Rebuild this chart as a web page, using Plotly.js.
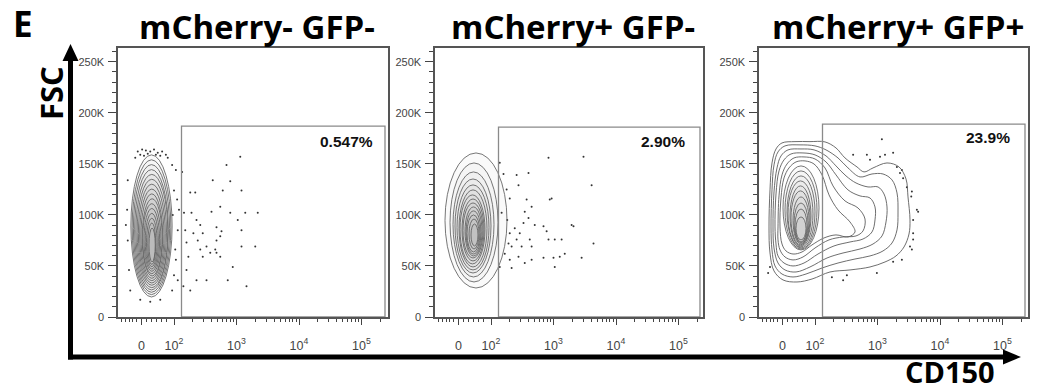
<!DOCTYPE html>
<html><head><meta charset="utf-8">
<script src="https://cdn.plot.ly/plotly-3.0.1.min.js"></script>
<style>html,body{margin:0;padding:0;background:#fff}#chart{width:1041px;height:391px}</style>
</head><body><div id="chart"></div>
<script>
// ---------------- data (x in biexponential display decades, y = FSC in thousands) ----------------
const panelTitles = ["mCherry- GFP-", "mCherry+ GFP-", "mCherry+ GFP+"];
const gatePercent = ["0.547%", "2.90%", "23.9%"];
const xTickVals = [1.48, 2, 3, 4, 5];
const xTickText = ["0", "10<sup>2</sup>", "10<sup>3</sup>", "10<sup>4</sup>", "10<sup>5</sup>"];
const xMinorLinear = [1.16, 1.22, 1.28, 1.34, 1.40, 1.56, 1.64, 1.72, 1.80, 1.88];
const yTickVals = [0, 50, 100, 150, 200, 250];
const yTickText = ["0", "50K", "100K", "150K", "200K", "250K"];
const gateX0 = [2.12, 2.12, 2.12];
const gateX1 = [5.376, 5.344, 5.36];
const gateY1 = [187, 186, 189];
const labelX = [5.22, 5.14, 5.15];
const labelY = [171.6, 171.6, 175.5];

// panel 1 contour rings (outer -> inner)
const p1RingXLo = [1.31,1.33,1.35,1.37,1.39,1.41,1.43,1.45,1.47,1.49,1.50,1.52,1.54,1.56,1.58,1.60];
const p1RingXHi = [1.97,1.95,1.93,1.91,1.90,1.88,1.86,1.84,1.82,1.81,1.79,1.77,1.75,1.73,1.71,1.70];
const p1RingYLo = [19.6,21.9,24.2,26.5,28.7,31.1,33.3,35.6,37.9,40.2,42.4,44.8,47.0,49.3,51.6,53.9];
const p1RingYHi = [158.8,154.0,149.3,144.4,139.7,134.9,130.1,125.3,120.6,115.8,111.0,106.3,101.5,96.7,92.0,87.2];
const p1DotX = [2.13,2.26,2.34,2.28,2.36,2.42,2.31,2.38,2.46,2.52,2.58,2.46,2.68,2.74,2.66,2.68,2.74,2.78,2.84,2.90,2.62,3.06,3.08,2.90,3.02,3.14,3.34,3.08,3.08,3.30,2.94,2.86,3.16,2.36,2.52,2.20,2.15,2.26,2.74,2.68,2.76,2.60,2.42,2.20,2.23,2.18,2.16,
  2.03,2.05,2.06,2.03,2.06,2.02,2.08,
  1.42,1.49,1.55,1.62,1.68,1.74,1.81,1.87,1.46,1.58,1.71,1.78,1.52,1.38,1.90,
  1.26,1.25,1.26,1.28,1.23,1.30,1.97,2.0,1.98,2.0,1.97,1.46,1.62,1.78];
const p1DotY = [142,122,122,102,95,90,82,75,82,69,63,59,63,59,66,88,108,124,149,133,134,157,124,102,95,102,102,85,69,69,49,36,30,36,36,46,30,26,79,75,84,103,66,73,59,85,102,
  144,115,85,56,36,66,105,
  162,164,163,162,164,161,162,159,159,160,159,158,158,156,156,
  134,105,75,46,90,26,149,124,100,41,26,17,15,17];

// panel 2 contour rings
const p2RingXLo = [1.264,1.344,1.392,1.424,1.456,1.488,1.504,1.536,1.552,1.584,1.60,1.616,1.648,1.68];
const p2RingXHi = [2.256,2.112,2.048,2.0,1.968,1.936,1.904,1.888,1.872,1.856,1.84,1.824,1.808,1.792];
const p2RingYLo = [28.4,34.3,39.2,43.1,46.1,49.0,52.0,54.9,57.8,59.8,61.7,63.7,66.6,69.6];
const p2RingYHi = [160.7,150.9,142.1,135.2,129.4,124.5,119.6,115.6,111.7,107.8,103.9,100.0,96.0,91.1];
const p2DotX = [2.14,2.41,2.60,2.44,2.30,2.57,2.65,2.54,2.60,2.52,2.38,2.30,2.28,2.33,2.41,2.46,2.49,2.62,2.65,2.44,2.30,2.33,2.54,2.65,2.70,2.84,2.89,2.92,3.02,3.13,2.84,3.00,3.02,3.10,3.18,2.94,2.97,2.92,3.29,3.32,3.45,3.48,3.61,3.64,2.25,2.22,2.14,2.17,2.20,2.26];
const p2DotY = [151,139,141,129,116,115,108,103,97,92,87,82,72,69,76,82,69,76,69,59,56,48,53,56,90,89,84,76,76,76,58,58,49,59,62,115,116,156,90,89,58,157,129,72,125,62,49,102,140,95];

// panel 3 irregular outer contours (outer -> inner)
const p3LobeX = [
  [1.264,1.28,1.312,1.376,1.472,1.68,1.92,2.16,2.336,2.48,2.672,2.784,2.928,3.152,3.344,3.456,3.488,3.52,3.504,3.424,3.296,3.12,2.88,2.56,2.24,1.952,1.712,1.488,1.344,1.28],
  [1.296,1.312,1.344,1.408,1.52,1.76,2.0,2.176,2.368,2.528,2.72,2.912,3.088,3.232,3.312,3.328,3.312,3.232,3.088,2.88,2.64,2.368,2.112,1.856,1.648,1.472,1.36,1.312],
  [1.328,1.344,1.392,1.456,1.568,1.776,1.984,2.176,2.336,2.496,2.656,2.848,3.008,3.104,3.152,3.136,3.072,2.928,2.72,2.448,2.192,1.92,1.696,1.52,1.408,1.344],
  [1.36,1.376,1.424,1.504,1.616,1.808,2.0,2.176,2.336,2.528,2.72,2.88,2.96,2.96,2.912,2.768,2.56,2.304,2.048,1.824,1.648,1.504,1.408,1.376],
  [1.408,1.424,1.472,1.552,1.664,1.824,2.0,2.16,2.288,2.48,2.688,2.8,2.768,2.656,2.448,2.224,2.0,1.808,1.648,1.52,1.44,1.408],
  [1.44,1.456,1.504,1.584,1.696,1.84,1.984,2.112,2.224,2.368,2.56,2.64,2.528,2.336,2.144,1.952,1.792,1.648,1.536,1.472]
];
const p3LobeY = [
  [88.2,124.5,150.9,164.6,170.5,171.8,171.8,171.5,165.6,155.8,147,142.1,146,150.9,147,135.2,117.6,95.1,81.3,68.6,59.8,53.9,49,46.1,44.1,37.2,34.3,36.3,45.1,62.7],
  [88.2,124.5,149,161.7,167.6,168.6,167.6,163.7,155.8,146,137.2,140.1,140.1,134.3,121.5,101.9,85.3,72.5,64.7,59.8,56.8,52.9,48,42.1,39.2,42.1,50,65.7],
  [88.2,122.5,146,157.8,163.7,164.6,163.7,157.8,148,138.2,131.3,127.4,127.4,120.5,107.8,93.1,79.4,71.5,66.6,62.7,57.8,49,44.1,46.1,52.9,67.6],
  [88.2,120.5,143.1,153.9,159.7,160.7,158.8,151.9,139.2,124.5,118.6,116.6,107.8,95.1,83.3,76.4,73.5,69.6,61.7,52.9,50,52.9,59.8,71.5],
  [88.2,118.6,139.2,149.9,155.8,156.8,154.8,146,128.4,113.7,106.8,96,84.3,79.4,78.4,75.5,67.6,58.8,55.9,58.8,65.7,75.5],
  [88.2,116.6,136.2,146,151.9,152.9,149.9,139.2,119.6,104.9,93.1,83.3,78.4,80.4,77.4,70.6,63.7,61.7,64.7,71.5]
];
// panel 3 inner core rings
const p3RingXLo = [1.488,1.52,1.552,1.568,1.6,1.616,1.648,1.664,1.68,1.696];
const p3RingXHi = [2.064,2.032,2.0,1.968,1.936,1.92,1.904,1.888,1.872,1.856];
const p3RingYLo = [65.7,66.6,67.6,68.6,69.6,70.6,71.5,72.5,73.5,75.5];
const p3RingYHi = [148,143.1,138.2,133.3,128.4,123.5,117.6,111.7,105.8,98];
const p3DotX = [2.61,3.04,3.12,3.25,3.31,3.36,3.41,3.47,3.54,3.65,3.57,3.57,3.57,3.52,3.39,3.25,2.99,2.51,2.27,2.45,1.25,1.28,3.07,2.88,3.39,3.63,3.55,3.55,2.83];
const p3DotY = [159,157,159,161,147,141,136,127,118,103,95,82,76,69,56,54,43,41,39,36,43,49,174,154,144,105,123,66,159];

// ---------------- layout helpers ----------------
const W = 1041, H = 391;
const PX = v => v / W, PY = v => 1 - v / H;
const panelPx = [[118, 388], [435, 703], [759, 1028]];
const pxPerDecade = 62.5;
const xStart = 1.104;
const yDom = [PY(317), PY(48)];

const xMinor = xMinorLinear.slice();
[2, 3, 4].forEach(n => { for (let k = 2; k <= 9; k++) xMinor.push(n + Math.log10(k)); });
xMinor.push(5 + Math.log10(2));

const yTickFont = {family: 'Liberation Sans, Arial, sans-serif', size: 11, color: '#444'};
const xTickFont = {family: 'Liberation Sans, Arial, sans-serif', size: 12.5, color: '#444'};
const layout = {
  width: W, height: H, margin: {l: 0, r: 0, t: 0, b: 0},
  paper_bgcolor: '#fff', plot_bgcolor: '#fff', showlegend: false,
  shapes: [], annotations: []
};

const traces = [];
const ringsX = [[p1RingXLo, p1RingXHi, p1RingYLo, p1RingYHi], [p2RingXLo, p2RingXHi, p2RingYLo, p2RingYHi], [p3RingXLo, p3RingXHi, p3RingYLo, p3RingYHi]];
const dots = [[p1DotX, p1DotY], [p2DotX, p2DotY], [p3DotX, p3DotY]];

for (let i = 0; i < 3; i++) {
  const sfx = i === 0 ? '' : String(i + 1);
  const xa = 'x' + sfx, ya = 'y' + sfx;
  const [l, r] = panelPx[i];
  layout['xaxis' + sfx] = {
    domain: [PX(l), PX(r)], range: [xStart, xStart + (r - l) / pxPerDecade], anchor: ya,
    tickmode: 'array', tickvals: xTickVals, ticktext: xTickText,
    ticks: 'outside', ticklen: 6, tickwidth: 1, tickcolor: '#444',
    minor: {tickmode: 'array', tickvals: xMinor, ticks: 'outside', ticklen: 3, tickwidth: 1, tickcolor: '#444'},
    showline: true, linecolor: '#555', linewidth: 1.6, mirror: true,
    showgrid: false, zeroline: false, tickfont: xTickFont, ticklabelstandoff: 10, fixedrange: true
  };
  layout['yaxis' + sfx] = {
    domain: yDom, range: [0, 263.5], anchor: xa,
    tickmode: 'array', tickvals: yTickVals, ticktext: yTickText,
    ticks: 'outside', ticklen: 8, tickwidth: 1, tickcolor: '#444',
    minor: {dtick: 10, tick0: 0, ticks: 'outside', ticklen: 4, tickwidth: 1, tickcolor: '#444'},
    showline: true, linecolor: '#555', linewidth: 1.6, mirror: true,
    showgrid: false, zeroline: false, tickfont: yTickFont, ticklabelstandoff: 2, fixedrange: true
  };

  // dots
  traces.push({type: 'scatter', mode: 'markers', x: dots[i][0], y: dots[i][1], xaxis: xa, yaxis: ya,
    marker: {size: 2, color: '#333'}, hoverinfo: 'skip'});

  // elliptical contour rings
  const [xl, xh, yl, yh] = ringsX[i];
  for (let k = 0; k < xl.length; k++) {
    layout.shapes.push({type: 'circle', xref: xa, yref: ya, x0: xl[k], x1: xh[k], y0: yl[k], y1: yh[k],
      line: {color: '#5e5e5e', width: 0.85}, fillcolor: 'rgba(100,100,100,0.035)'});
  }

  // gate
  layout.shapes.push({type: 'rect', xref: xa, yref: ya, x0: gateX0[i], x1: gateX1[i], y0: 0, y1: gateY1[i],
    line: {color: '#8a8a8a', width: 1.3}, fillcolor: 'rgba(0,0,0,0)'});

  // gate percentage
  layout.annotations.push({xref: xa, yref: ya, x: labelX[i], y: labelY[i], xanchor: 'right', yanchor: 'middle',
    text: '<b>' + gatePercent[i] + '</b>', showarrow: false,
    font: {family: 'Liberation Sans, Arial, sans-serif', size: 15.5, color: '#111'}});

  // panel title
  layout.annotations.push({xref: 'paper', yref: 'paper', x: PX((l + r) / 2 + 4), y: PY(27), xanchor: 'center', yanchor: 'middle',
    text: '<b>' + panelTitles[i] + '</b>', showarrow: false,
    font: {family: 'Open Sans, sans-serif', size: 33, color: '#000'}});
}

// panel 3 irregular contours
for (let k = 0; k < p3LobeX.length; k++) {
  traces.push({type: 'scatter', mode: 'lines', x: p3LobeX[k].concat([p3LobeX[k][0]]), y: p3LobeY[k].concat([p3LobeY[k][0]]),
    xaxis: 'x3', yaxis: 'y3', line: {color: '#5e5e5e', width: 0.9, shape: 'spline', smoothing: 1}, hoverinfo: 'skip'});
}

// axis arrows and labels
layout.shapes.push(
  {type: 'line', xref: 'paper', yref: 'paper', x0: PX(70.5), x1: PX(70.5), y0: PY(359.5), y1: PY(58), line: {color: '#000', width: 5}},
  {type: 'path', xref: 'paper', yref: 'paper', path: `M ${PX(62.5)} ${PY(61)} L ${PX(78.5)} ${PY(61)} L ${PX(70.5)} ${PY(44)} Z`, fillcolor: '#000', line: {width: 0}},
  {type: 'line', xref: 'paper', yref: 'paper', x0: PX(68), x1: PX(1006), y0: PY(357), y1: PY(357), line: {color: '#000', width: 5}},
  {type: 'path', xref: 'paper', yref: 'paper', path: `M ${PX(1003)} ${PY(349.5)} L ${PX(1003)} ${PY(364.5)} L ${PX(1021)} ${PY(357)} Z`, fillcolor: '#000', line: {width: 0}}
);
layout.annotations.push(
  {xref: 'paper', yref: 'paper', x: PX(22.5), y: PY(23), xanchor: 'center', yanchor: 'middle', text: '<b>E</b>', showarrow: false,
    font: {family: 'Open Sans, sans-serif', size: 35, color: '#000'}},
  {xref: 'paper', yref: 'paper', x: PX(51), y: PY(93), xanchor: 'center', yanchor: 'middle', text: '<b>FSC</b>', textangle: -90, showarrow: false,
    font: {family: 'Open Sans, sans-serif', size: 31, color: '#000'}},
  {xref: 'paper', yref: 'paper', x: PX(950), y: PY(371), xanchor: 'center', yanchor: 'middle', text: '<b>CD150</b>', showarrow: false,
    font: {family: 'Open Sans, sans-serif', size: 29, color: '#000'}}
);

Plotly.newPlot('chart', traces, layout, {staticPlot: true, displayModeBar: false});
</script></body></html>
